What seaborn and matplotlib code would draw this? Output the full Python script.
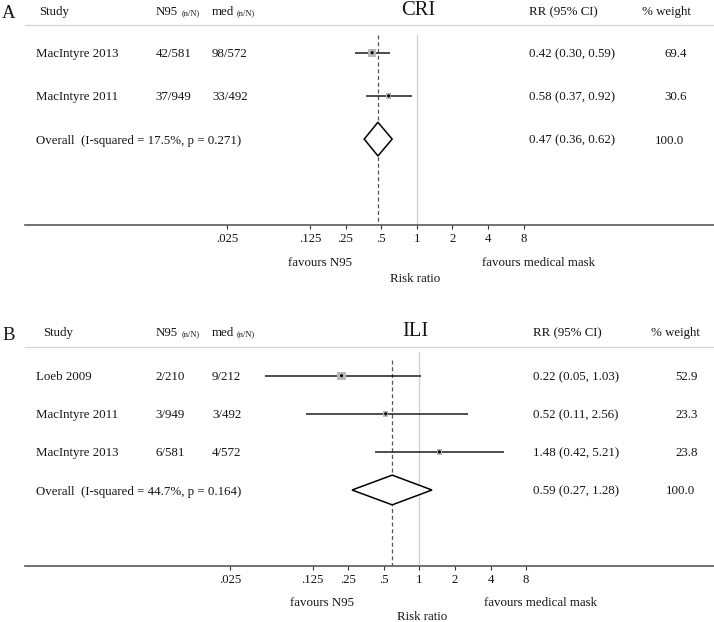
import numpy as np
import pandas as pd
import matplotlib
matplotlib.use("Agg")
import matplotlib.pyplot as plt
from matplotlib import transforms
from matplotlib.ticker import NullLocator
import seaborn as sns

# ---------------- data ----------------
cri_study = ["MacIntyre 2013", "MacIntyre 2011"]
cri_n95 = ["42/581", "37/949"]
cri_med = ["98/572", "33/492"]
cri_rr = [0.42, 0.58]
cri_lo = [0.30, 0.37]
cri_hi = [0.59, 0.92]
cri_weight = [69.4, 30.6]
cri_overall = [0.47, 0.36, 0.62]   # RR, lower, upper
cri_isq = 17.5
cri_p = 0.271

ili_study = ["Loeb 2009", "MacIntyre 2011", "MacIntyre 2013"]
ili_n95 = ["2/210", "3/949", "6/581"]
ili_med = ["9/212", "3/492", "4/572"]
ili_rr = [0.22, 0.52, 1.48]
ili_lo = [0.05, 0.11, 0.42]
ili_hi = [1.03, 2.56, 5.21]
ili_weight = [52.9, 23.3, 23.8]
ili_overall = [0.59, 0.27, 1.28]
ili_isq = 44.7
ili_p = 0.164

tick_values = [0.025, 0.125, 0.25, 0.5, 1, 2, 4, 8]
tick_labels = [".025", ".125", ".25", ".5", "1", "2", "4", "8"]

# ---------------- style ----------------
sns.set_theme(style="white")
plt.rcParams["font.family"] = ["Liberation Serif", "DejaVu Serif"]
TXT = "#141414"
FS = 9.3

W, H = 714, 622
fig = plt.figure(figsize=(W / 100, H / 100), dpi=100)
fig.patch.set_facecolor("white")

# layout constants (pixels)
LAYOUT = {
    "A": dict(title="CRI", sep=25, axis=225, row0=52.7, gap=43.2, one=416.7,
              hdr_base=15, letter_base=18, study_hdr_x=39, rr_hdr_x=529, rr_x=529,
              wt_hdr_r=691, wt_r=687, vtop=35, dtop=35, fav_y=262, rlab_y=277.5,
              favn_x=320.5, favm_x=539, rlab_x=415, title_x=418),
    "B": dict(title="ILI", sep=346.7, axis=566, row0=375.7, gap=38.1, one=419.3,
              hdr_base=336, letter_base=340, study_hdr_x=43, rr_hdr_x=533, rr_x=533,
              wt_hdr_r=700, wt_r=698, vtop=351.7, dtop=360, fav_y=602, rlab_y=615.5,
              favn_x=322, favm_x=540, rlab_x=422.5, title_x=415),
}
DOUBLING = 35.6
LEFT_PX, RIGHT_PX = 25, 714


def fx(px):
    return px / W


def fy(py):
    return 1 - py / H


def panel(letter, study, n95, med, rr, lo, hi, weight, overall, isq, p):
    L = LAYOUT[letter]
    ax = fig.add_axes([fx(LEFT_PX), fy(L["axis"]), fx(RIGHT_PX - LEFT_PX),
                       (L["axis"] - L["sep"]) / H])
    ax.set_facecolor("none")
    ax.set_xscale("log", base=2)
    xl = 2 ** ((LEFT_PX - L["one"]) / DOUBLING)
    xr = 2 ** ((RIGHT_PX - L["one"]) / DOUBLING)
    ax.set_xlim(xl, xr)
    ytop = (L["sep"] - L["row0"]) / L["gap"]
    ybot = (L["axis"] - L["row0"]) / L["gap"]
    ax.set_ylim(ybot, ytop)

    n = len(study)
    df = pd.DataFrame(dict(row=np.arange(n), rr=rr, lo=lo, hi=hi, w=weight))

    # reference lines
    ax.plot([1, 1], [(L["vtop"] - L["row0"]) / L["gap"], ybot],
            color="#cfcfcf", lw=0.9, zorder=1)
    ax.plot([overall[0], overall[0]], [(L["dtop"] - L["row0"]) / L["gap"], ybot],
            color="#555555", lw=0.9, ls=(0, (3.2, 2.2)), zorder=1)

    # confidence intervals
    ax.hlines(df["row"], df["lo"], df["hi"], color="#262626", lw=1.15, zorder=2)
    # weighted boxes
    sns.scatterplot(data=df, x="rr", y="row", size="w", sizes=(0, 36),
                    size_norm=(0, df["w"].max()), marker="s", color="#b8b8b8",
                    edgecolor="none", legend=False, ax=ax, zorder=3)
    # point estimates
    sns.scatterplot(data=df, x="rr", y="row", marker="o", s=5, color="black",
                    edgecolor="none", legend=False, ax=ax, zorder=4)
    # overall diamond
    est, olo, ohi = overall
    ax.fill([olo, est, ohi, est], [n, n - 0.39, n, n + 0.39],
            facecolor="white", edgecolor="black", lw=1.1, zorder=3)

    # axes styling
    ax.set_xlabel("")
    ax.set_ylabel("")
    ax.set_yticks([])
    ax.set_xticks(tick_values)
    ax.set_xticklabels(tick_labels)
    ax.xaxis.set_minor_locator(NullLocator())
    ax.tick_params(axis="x", length=3, width=0.8, pad=2.5, labelsize=9.2,
                   colors="#333333", labelcolor=TXT, bottom=True)
    for s in ["left", "right"]:
        ax.spines[s].set_visible(False)
    ax.spines["top"].set_color("#d6d6d6")
    ax.spines["top"].set_linewidth(0.9)
    ax.spines["bottom"].set_color("#5a5a5a")
    ax.spines["bottom"].set_linewidth(1.2)

    # header
    hb = fy(L["hdr_base"])
    fig.text(fx(2), fy(L["letter_base"]), letter, fontsize=13.5, color=TXT, va="baseline")
    fig.text(fx(L["study_hdr_x"]), hb, "Study", fontsize=FS, color=TXT, va="baseline")
    fig.text(fx(156), hb, "N95", fontsize=FS, color=TXT, va="baseline")
    fig.text(fx(181.7), hb, "(n/N)", fontsize=6, color=TXT, va="baseline")
    fig.text(fx(212), hb, "med", fontsize=FS, color=TXT, va="baseline")
    fig.text(fx(237), hb, "(n/N)", fontsize=6, color=TXT, va="baseline")
    fig.text(fx(L["title_x"]), hb, L["title"], fontsize=14.8, color=TXT,
             va="baseline", ha="center")
    fig.text(fx(L["rr_hdr_x"]), hb, "RR (95% CI)", fontsize=FS, color=TXT, va="baseline")
    fig.text(fx(L["wt_hdr_r"]), hb, "% weight", fontsize=FS, color=TXT,
             va="baseline", ha="right")

    # row texts
    tr = transforms.blended_transform_factory(fig.transFigure, ax.transData)
    kw = dict(transform=tr, fontsize=FS, color=TXT, va="center_baseline")
    for i in range(n):
        fig.text(fx(36), i, study[i], **kw)
        fig.text(fx(155.5), i, n95[i], **kw)
        fig.text(fx(212), i, med[i], **kw)
        fig.text(fx(L["rr_x"]), i, f"{rr[i]:.2f} ({lo[i]:.2f}, {hi[i]:.2f})", **kw)
        fig.text(fx(L["wt_r"]), i, f"{weight[i]:.1f}", ha="right", **kw)
    fig.text(fx(36), n, f"Overall  (I-squared = {isq:.1f}%, p = {p:.3f})", **kw)
    fig.text(fx(L["rr_x"]), n, f"{est:.2f} ({olo:.2f}, {ohi:.2f})", **kw)
    fig.text(fx(L["wt_r"] - 2.5), n, f"{sum(weight):.1f}", ha="right", **kw)

    # axis annotations
    fig.text(fx(L["favn_x"]), fy(L["fav_y"]), "favours N95", fontsize=FS, color=TXT,
             ha="center", va="center_baseline")
    fig.text(fx(L["favm_x"]), fy(L["fav_y"]), "favours medical mask", fontsize=FS,
             color=TXT, ha="center", va="center_baseline")
    fig.text(fx(L["rlab_x"]), fy(L["rlab_y"]), "Risk ratio", fontsize=FS, color=TXT,
             ha="center", va="center_baseline")
    return ax


panel("A", cri_study, cri_n95, cri_med, cri_rr, cri_lo, cri_hi, cri_weight,
      cri_overall, cri_isq, cri_p)
panel("B", ili_study, ili_n95, ili_med, ili_rr, ili_lo, ili_hi, ili_weight,
      ili_overall, ili_isq, ili_p)

fig.savefig("out.png", dpi=100, facecolor="white")
